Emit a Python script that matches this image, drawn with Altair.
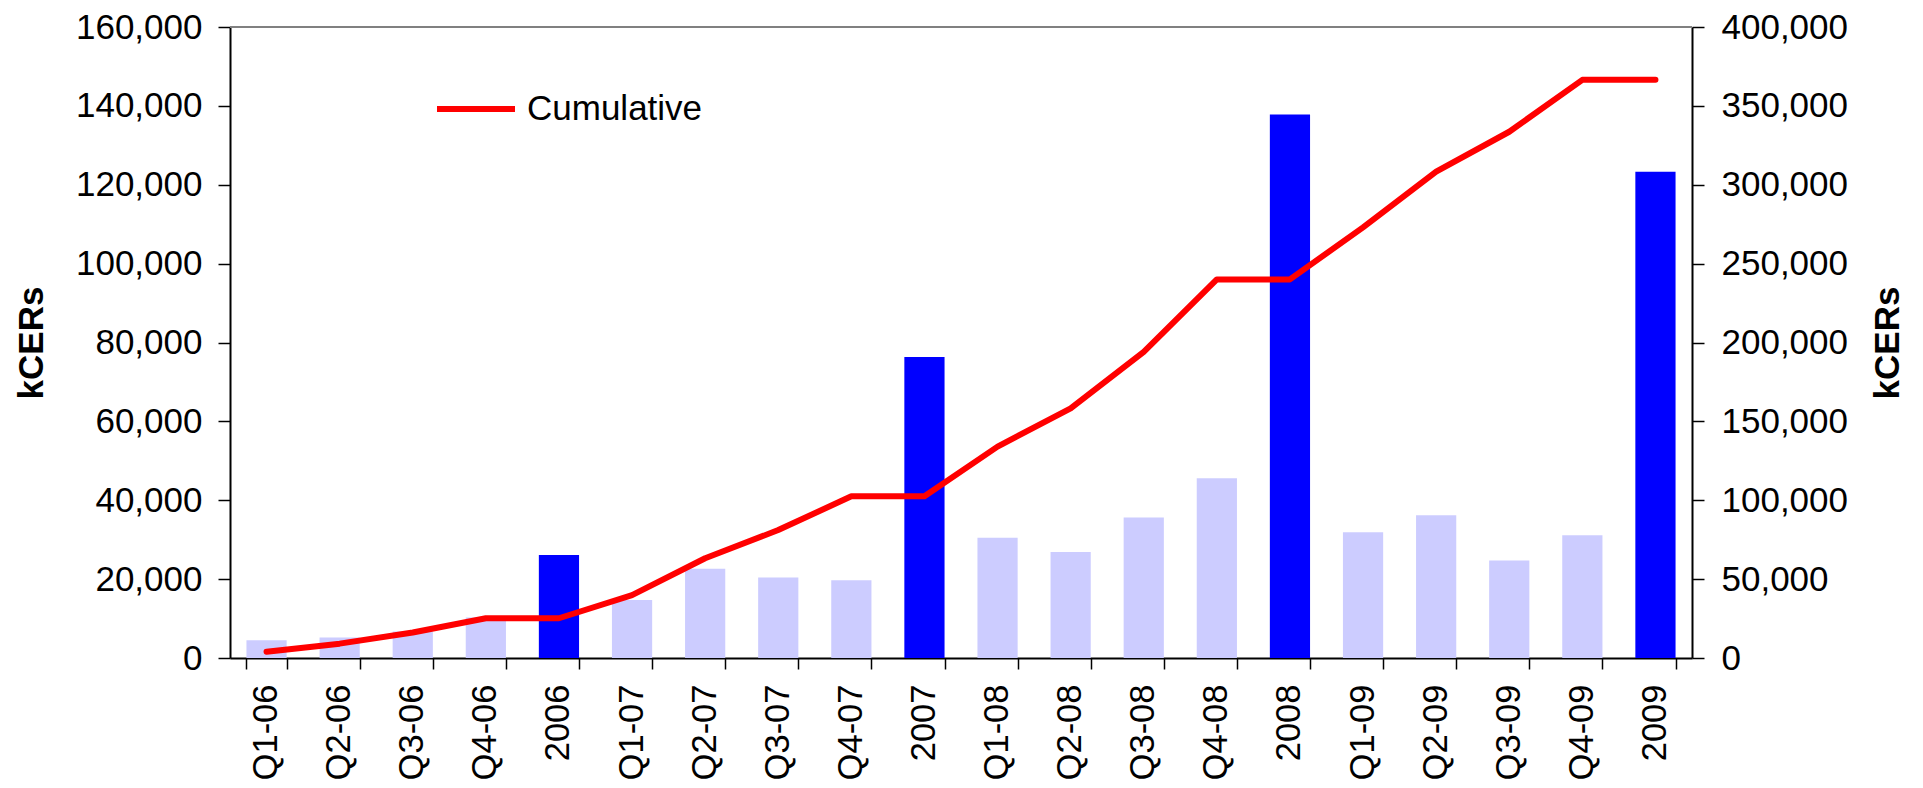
import altair as alt
import pandas as pd

# Periods: quarters followed by the yearly total
periods = ["Q1-06", "Q2-06", "Q3-06", "Q4-06", "2006",
           "Q1-07", "Q2-07", "Q3-07", "Q4-07", "2007",
           "Q1-08", "Q2-08", "Q3-08", "Q4-08", "2008",
           "Q1-09", "Q2-09", "Q3-09", "Q4-09", "2009"]

# Issued volume per period (kCERs, left axis)
volumes = [4500, 5200, 6700, 10300, 26100,
           14700, 22600, 20400, 19700, 76300,
           30500, 26900, 35600, 45600, 137800,
           31900, 36200, 24700, 31100, 123300]

# Running total (kCERs, right axis)
cumulative = [4000, 9100, 16200, 25200, 25200,
              39900, 63200, 81100, 102500, 102500,
              134000, 158300, 194000, 240000, 240000,
              273000, 308300, 333600, 366500, 366500]

left_ticks = list(range(0, 160001, 20000))
right_ticks = list(range(0, 400001, 50000))

df = pd.DataFrame({
    "period": periods,
    "volume": volumes,
    "cumulative": cumulative,
})
df["kind"] = ["Year" if p.isdigit() else "Quarter" for p in df["period"]]
df["series"] = "Cumulative"

W, H = 1462, 631
FONT = "Liberation Sans"

x_enc = alt.X(
    "period:N",
    sort=periods,
    scale=alt.Scale(paddingInner=0.45, paddingOuter=0.225),
    axis=alt.Axis(
        title=None,
        labelAngle=270,
        labelFontSize=34.5,
        labelFont=FONT,
        labelColor="#000000",
        labelPadding=15,
        tickBand="extent",
        tickSize=11,
        tickColor="#000000",
        tickWidth=1.5,
        domainColor="#000000",
        domainWidth=2,
        grid=False,
    ),
)

bars = alt.Chart(df).mark_bar().encode(
    x=x_enc,
    y=alt.Y(
        "volume:Q",
        scale=alt.Scale(domain=[0, 160000], nice=False),
        axis=alt.Axis(
            title="kCERs",
            orient="left",
            values=left_ticks,
            format=",d",
            labelFontSize=35,
            labelFont=FONT,
            labelColor="#000000",
            labelPadding=16,
            tickSize=12,
            tickColor="#000000",
            tickWidth=1.5,
            domainColor="#000000",
            domainWidth=2,
            grid=False,
            titleFont=FONT,
            titleFontSize=35,
            titleFontWeight="bold",
            titleColor="#000000",
            titleAngle=270,
            titleAlign="center",
            titleBaseline="middle",
            titleX=-199,
            titleY=H / 2,
        ),
    ),
    color=alt.Color(
        "kind:N",
        scale=alt.Scale(domain=["Quarter", "Year"], range=["#CCCCFF", "#0000FF"]),
        legend=None,
    ),
)

line = alt.Chart(df).mark_line(strokeWidth=6, strokeCap="round", strokeJoin="round").encode(
    x=alt.X("period:N", sort=periods),
    y=alt.Y(
        "cumulative:Q",
        scale=alt.Scale(domain=[0, 400000], nice=False),
        axis=alt.Axis(
            title="kCERs",
            orient="right",
            values=right_ticks,
            format=",d",
            labelFontSize=35,
            labelFont=FONT,
            labelColor="#000000",
            labelPadding=17,
            tickSize=12,
            tickColor="#000000",
            tickWidth=1.5,
            domainColor="#000000",
            domainWidth=2,
            grid=False,
            titleFont=FONT,
            titleFontSize=35,
            titleFontWeight="bold",
            titleColor="#000000",
            titleAngle=270,
            titleAlign="center",
            titleBaseline="middle",
            titleX=195,
            titleY=H / 2,
        ),
    ),
    color=alt.Color(
        "series:N",
        scale=alt.Scale(domain=["Cumulative"], range=["#FF0000"]),
        legend=alt.Legend(
            title=None,
            orient="none",
            legendX=204,
            legendY=40,
            symbolType="stroke",
            symbolSize=6084,
            symbolStrokeWidth=6,
            labelFont=FONT,
            labelFontSize=35,
            labelColor="#000000",
            labelOffset=9,
            labelLimit=0,
            padding=0,
        ),
    ),
)

# gray frame line along the top of the plot area
top_border = alt.Chart(df).mark_rule(color="#808080", strokeWidth=2).encode(
    x=alt.value(0), x2=alt.value(W), y=alt.value(0)
)

chart = (
    alt.layer(top_border, bars, line)
    .resolve_scale(y="independent", color="independent")
    .properties(
        width=W,
        height=H,
        autosize=alt.AutoSizeParams(type="none"),
        padding={"left": 230, "top": 27, "right": 231, "bottom": 130},
        background="#FFFFFF",
    )
    .configure_view(stroke=None)
)

chart.save("out.html", embed_options={"renderer": "svg", "actions": False})
